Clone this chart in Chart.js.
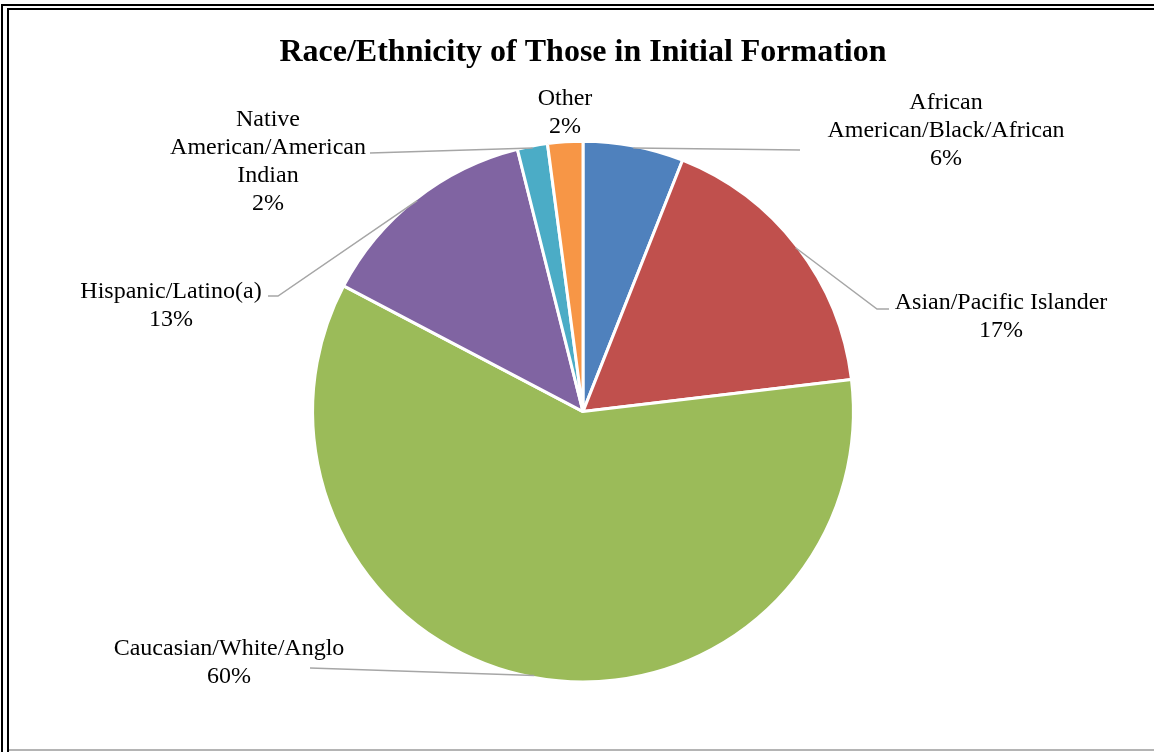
<!DOCTYPE html>
<html>
<head>
    <title>Race/Ethnicity of Those in Initial Formation</title>
    <script src="https://cdn.jsdelivr.net/npm/chart.js"></script>
    <style>
        html, body { margin: 0; padding: 0; background: #fff; overflow: hidden; }
        #wrap { position: absolute; left: 0; top: 0; width: 1154px; height: 752px; }
        .frame { position: absolute; right: -10px; bottom: -10px; border-left: 2px solid #000; border-top: 2px solid #000; }
        #outer { left: 1px; top: 4px; }
        #inner { left: 7px; top: 8px; }
        #bottomLine { position: absolute; left: 9px; right: 0; top: 749px; height: 2px; background: #b4b4b4; }
    </style>
</head>
<body>
<div id="wrap">
    <canvas id="pieChart" width="1154" height="752"></canvas>
    <div class="frame" id="outer"></div>
    <div class="frame" id="inner"></div>
    <div id="bottomLine"></div>
</div>

<script>
    // data
    var categories = [
        ['African', 'American/Black/African'],
        ['Asian/Pacific Islander'],
        ['Caucasian/White/Anglo'],
        ['Hispanic/Latino(a)'],
        ['Native', 'American/American', 'Indian'],
        ['Other']
    ];
    var values = [6.0, 17.1, 59.6, 13.4, 1.8, 2.1];
    var colors = ['#4F81BD', '#C0504D', '#9BBB59', '#8064A2', '#4BACC6', '#F79646'];

    // where each data label sits, and the bends of its leader line
    var labelLayout = [
        { x: 946, y: 103, leader: [[800, 150]] },
        { x: 1001, y: 303, leader: [[877, 309], [889, 309]] },
        { x: 229, y: 649, leader: [[310, 668]] },
        { x: 171, y: 292, leader: [[278, 296], [268, 296]] },
        { x: 268, y: 120, leader: [[370, 153]] },
        { x: 565, y: 99, leader: [] }
    ];

    var outsideLabels = {
        id: 'outsideLabels',
        afterDatasetsDraw: function (chart) {
            var c = chart.ctx;
            var arcs = chart.getDatasetMeta(0).data;
            var total = values.reduce(function (a, b) { return a + b; }, 0);
            c.save();
            arcs.forEach(function (arc, i) {
                var lay = labelLayout[i];
                var p = arc.getProps(['x', 'y', 'startAngle', 'endAngle', 'outerRadius'], true);
                var mid = (p.startAngle + p.endAngle) / 2;
                if (lay.leader.length) {
                    c.beginPath();
                    c.strokeStyle = '#A6A6A6';
                    c.lineWidth = 1.5;
                    c.moveTo(p.x + Math.cos(mid) * (p.outerRadius - 2), p.y + Math.sin(mid) * (p.outerRadius - 2));
                    lay.leader.forEach(function (pt) { c.lineTo(pt[0], pt[1]); });
                    c.stroke();
                }
                var lines = categories[i].concat([Math.round(values[i] / total * 100) + '%']);
                c.fillStyle = '#000';
                c.font = '24px "Liberation Serif", "Times New Roman", serif';
                c.textAlign = 'center';
                c.textBaseline = 'middle';
                lines.forEach(function (t, k) {
                    c.fillText(t, lay.x, lay.y + k * 27.8);
                });
            });
            c.restore();
        }
    };

    var ctx = document.getElementById('pieChart').getContext('2d');
    var chart = new Chart(ctx, {
        type: 'pie',
        data: {
            labels: categories,
            datasets: [{
                data: values,
                backgroundColor: colors,
                borderColor: '#ffffff',
                borderWidth: 3,
                hoverBorderWidth: 3
            }]
        },
        options: {
            responsive: false,
            animation: false,
            layout: { padding: { top: 0, bottom: 68.5, left: 12, right: 0 } },
            plugins: {
                legend: { display: false },
                tooltip: { enabled: false },
                title: {
                    display: true,
                    text: 'Race/Ethnicity of Those in Initial Formation',
                    color: '#000',
                    font: { family: '"Liberation Serif", "Times New Roman", serif', size: 32, weight: 'bold', lineHeight: 1.2 },
                    padding: { top: 34, bottom: 67.3 }
                }
            }
        },
        plugins: [outsideLabels]
    });
</script>
</body>
</html>
